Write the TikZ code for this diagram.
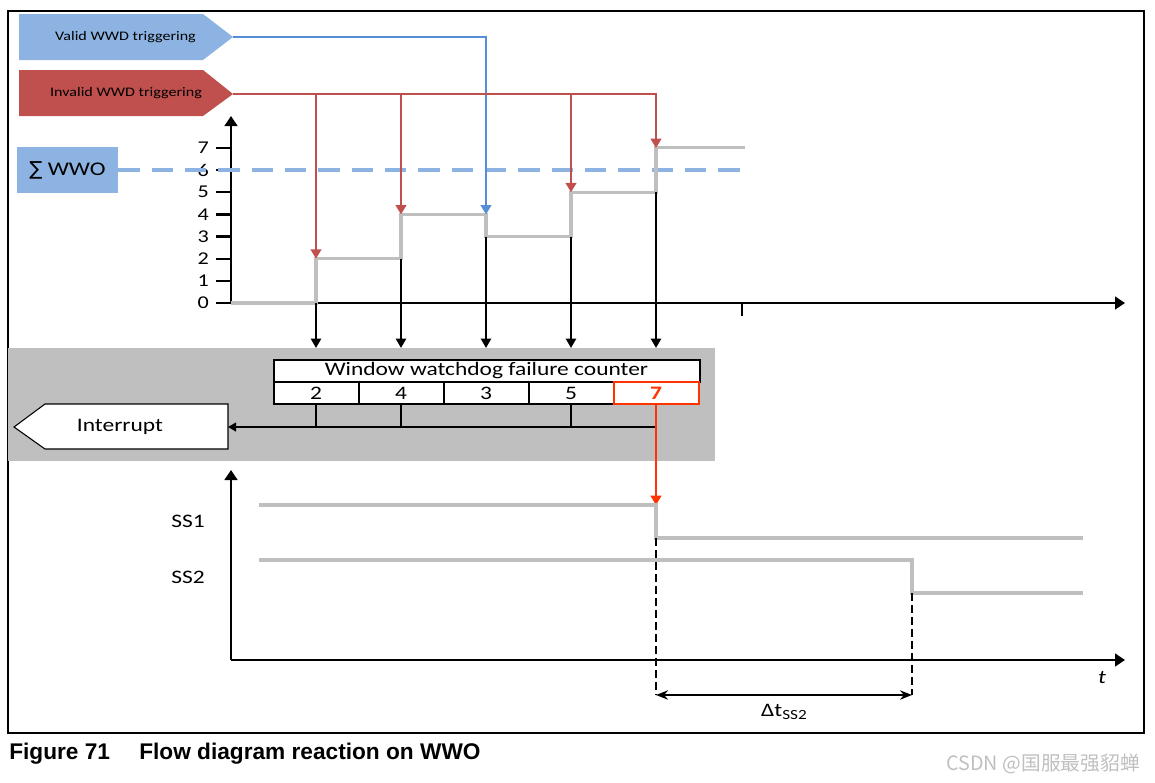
\documentclass[tikz,border=0pt]{standalone}
\usepackage{fontspec}
\setmainfont{Carlito}[FakeStretch=1.23]
\newfontfamily\capfont{Liberation Sans}
\newfontfamily\symfont{DejaVu Sans}
\newfontfamily\cjkfont{Noto Sans CJK SC}
\usetikzlibrary{calc,arrows.meta}

\definecolor{tagblue}{RGB}{141,179,226}
\definecolor{lineblue}{RGB}{85,142,213}
\definecolor{tagred}{RGB}{192,80,77}
\definecolor{stepgray}{RGB}{191,191,191}
\definecolor{alarm}{RGB}{255,51,0}

\begin{document}
\begin{tikzpicture}[x=0.75pt,y=-0.75pt,
  lbl/.style={font=\fontsize{14.3}{16}\selectfont},
  small/.style={font=\fontsize{9.8}{12}\selectfont},
  axis/.style={line width=2.2pt,-{Triangle[length=7.5pt,width=9.5pt]}},
  level/.style={stepgray,line width=2.3pt},
  drop/.style={line width=1.8pt,-{Triangle[length=7pt,width=7.5pt]}},
  trig/.style={line width=1.5pt,-{Triangle[length=7pt,width=8pt]}},
  cell/.style={draw,line width=1.5pt,fill=white,minimum width=63.75pt,minimum height=16.5pt,inner sep=0pt,lbl}]

  \useasboundingbox (0,0) rectangle (1155,782);
  \draw[line width=0.8pt] (8,11) rectangle (1144,733);

  \fill[tagblue] (19,14) -- (203,14) -- (233,37) -- (203,60) -- (19,60) -- cycle;
  \node[small] (valid) at (125.5,37) {Valid WWD triggering};
  \coordinate (validtip) at (233,37);
  \fill[tagred] (19,70) -- (203,70) -- (233,94) -- (203,116) -- (19,116) -- cycle;
  \node[small] (invalid) at (126,93) {Invalid WWD triggering};
  \coordinate (invalidtip) at (233,94);

  \node[fill=tagblue,minimum width=75.75pt,minimum height=34.5pt,font=\fontsize{14.5}{16}\selectfont] (wwo) at (67.5,170) {{\symfont ∑} WWO};

  \draw[axis] (231,303) -- (231,116);
  \draw[axis] (231,303) -- (1125,303);
  \draw[line width=1.6pt] (742,303) -- (742,316);
  \foreach \v in {0,...,7} {
    \draw[line width=1.8pt] (216,{303-22.15*\v}) -- (231,{303-22.15*\v});
    \node[font=\fontsize{13.5}{15}\selectfont,anchor=east,inner sep=0pt] (n\v) at (209,{303-22.15*\v}) {\v};
  }

  \draw[tagblue,line width=2.3pt,dash pattern=on 16pt off 9pt] (wwo.east) -- (745,170);

  \foreach \x/\n/\p [count=\i] in {316/2/0, 401/4/2, 486/3/4, 571/5/3, 656/7/5} {
    \pgfmathsetmacro{\hi}{303-22.15*max(\n,\p)}
    \pgfmathsetmacro{\lo}{303-22.15*min(\n,\p)}
    \coordinate (lv\i) at (\x,{303-22.15*\n});
    \coordinate (top\i) at (\x,\hi);
    \coordinate (bot\i) at (\x,\lo);
    \coordinate (band\i) at (\x,348);
  }

  \fill[stepgray] (8,348) rectangle (715,461);

  \draw[level] (231,303) -| (lv1) -| (lv2) -| (lv3) -| (lv4) -| (lv5) -- ++(89,0);
  \foreach \i in {1,...,5}
    \draw[drop] (bot\i) -- (band\i);

  \draw[trig,lineblue] (validtip) -| (top3);
  \draw[trig,tagred] (invalidtip) -| (top5);
  \foreach \i in {1,2,4}
    \draw[trig,tagred] (top\i |- invalidtip) -- (top\i);

  \node[cell,minimum width=319.5pt] (head) at (486.5,371) {Window watchdog failure counter};
  \foreach \v [count=\i] in {2,4,3,5}
    \node[cell] (c\i) at ({231+85*\i},393) {\v};
  \node[cell,draw=alarm,text=alarm,font=\fontsize{14.3}{16}\selectfont\bfseries] (c5) at (656,393) {7};

  \draw[line width=0.8pt,fill=white] (14,427) -- (45,404) -- (228,404) -- (228,449) -- (45,449) -- cycle;
  \node[lbl] (intr) at (120,427) {Interrupt};
  \coordinate (intrin) at (228,427);
  \coordinate (irq) at (656,427);
  \draw[line width=1.8pt,-{Triangle[length=6pt,width=6.5pt]}] (irq) -- (intrin);
  \foreach \i in {1,2,4}
    \draw[line width=1.8pt] (c\i.south) -- (c\i.south |- irq);

  \coordinate (ss1drop) at (656,505);
  \coordinate (ss1low) at (656,538);
  \coordinate (ss2drop) at (912,560);
  \coordinate (ss2low) at (912,593);
  \draw[trig,alarm] (c5.south) -- (ss1drop);
  \draw[level] (259,505) -- (ss1drop) -- (ss1low) -- (1083,538);
  \draw[level] (259,560) -- (ss2drop) -- (ss2low) -- (1083,593);
  \node[lbl] (ss1) at (188,521) {SS1};
  \node[lbl] (ss2) at (188,577) {SS2};

  \draw[axis] (231,660) -- (231,470);
  \draw[axis] (231,660) -- (1125,660);
  \node[lbl,font=\fontsize{14.3}{16}\selectfont\itshape] (t) at (1102,678) {t};

  \coordinate (d1) at (656,695);
  \coordinate (d2) at (912,695);
  \draw[line width=1.3pt,dash pattern=on 6pt off 3pt] (ss1low) -- (d1);
  \draw[line width=1.3pt,dash pattern=on 6pt off 3pt] (ss2low) -- (d2);
  \draw[line width=1.5pt,{Stealth[length=9pt,width=7pt]}-{Stealth[length=9pt,width=7pt]}] (d1) -- (d2);
  \node[lbl] (dt) at (784,712) {Δt\raisebox{-2pt}{\fontsize{10.5}{12}\selectfont SS2}};

  \node[anchor=base west,inner sep=0pt,font=\capfont\bfseries\fontsize{17}{19}\selectfont] (fig) at (9,759) {Figure 71};
  \node[anchor=base west,inner sep=0pt,font=\capfont\bfseries\fontsize{17}{19}\selectfont] (title) at (139,759) {Flow diagram reaction on WWO};
  \node[anchor=base east,inner sep=0pt,text=gray!50,font=\cjkfont\fontsize{14.8}{16}\selectfont] (mark) at (1140,770) {CSDN @国服最强貂蝉};

\end{tikzpicture}
\end{document}
